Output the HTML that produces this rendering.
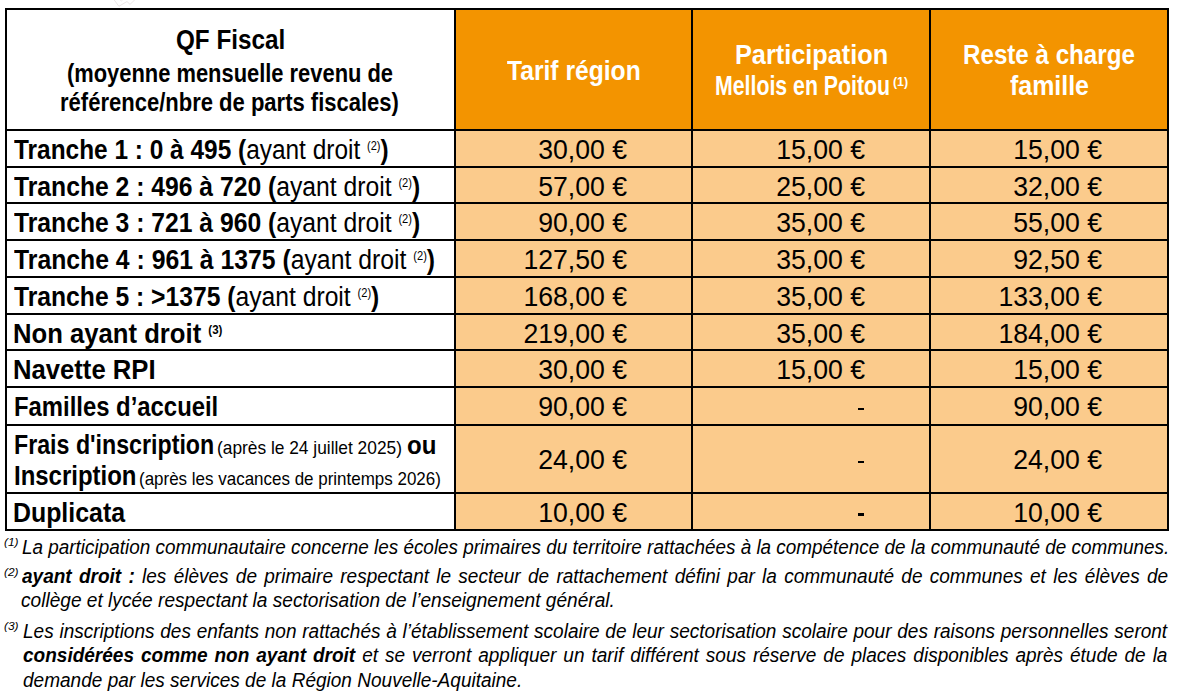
<!DOCTYPE html><html><head><meta charset="utf-8"><style>
*{margin:0;padding:0}
html,body{width:1185px;height:692px;overflow:hidden;background:#fff}
body{position:relative;font-family:"Liberation Sans",sans-serif;color:#000}
.g{position:absolute}
.t{position:absolute;white-space:nowrap;line-height:1;transform-origin:0 0}
.b{font-weight:bold}
.i{font-style:italic}
.sp{font-size:0.45em;vertical-align:0.72em}
.w{color:#fff}
</style></head><body>
<div class="g" style="left:454px;top:8px;width:713px;height:121px;background:#f39400"></div>
<div class="g" style="left:454px;top:129px;width:713px;height:400px;background:#fbcb8c"></div>
<div class="g" style="left:5px;top:8px;width:1164px;height:2px;background:#000"></div>
<div class="g" style="left:5px;top:129px;width:1164px;height:2px;background:#000"></div>
<div class="g" style="left:5px;top:166px;width:1164px;height:2px;background:#000"></div>
<div class="g" style="left:5px;top:202px;width:1164px;height:2px;background:#000"></div>
<div class="g" style="left:5px;top:239px;width:1164px;height:2px;background:#000"></div>
<div class="g" style="left:5px;top:276px;width:1164px;height:2px;background:#000"></div>
<div class="g" style="left:5px;top:313px;width:1164px;height:2px;background:#000"></div>
<div class="g" style="left:5px;top:349px;width:1164px;height:2px;background:#000"></div>
<div class="g" style="left:5px;top:386px;width:1164px;height:2px;background:#000"></div>
<div class="g" style="left:5px;top:424px;width:1164px;height:2px;background:#000"></div>
<div class="g" style="left:5px;top:492px;width:1164px;height:2px;background:#000"></div>
<div class="g" style="left:5px;top:529px;width:1164px;height:2px;background:#000"></div>
<div class="g" style="left:5px;top:8px;width:2px;height:523px;background:#000"></div>
<div class="g" style="left:454px;top:8px;width:2px;height:523px;background:#000"></div>
<div class="g" style="left:691px;top:8px;width:2px;height:523px;background:#000"></div>
<div class="g" style="left:929px;top:8px;width:2px;height:523px;background:#000"></div>
<div class="g" style="left:1167px;top:8px;width:2px;height:523px;background:#000"></div>
<svg class="g" style="left:0;top:0" width="200" height="10"><polyline points="113.9,-0.5 118.9,6.3 127,1.5 130,4.4 135.1,-0.5" fill="none" stroke="#ebe6e6" stroke-width="1"/><polyline points="119.6,-0.5 121.5,1.2 122.6,-0.5" fill="none" stroke="#f0ecec" stroke-width="1"/></svg>
<div class="g" style="left:857.8px;top:407.5px;width:6.3px;height:2.2px;background:#000"></div>
<div class="g" style="left:857.8px;top:460.7px;width:6.3px;height:2.2px;background:#000"></div>
<div class="g" style="left:857.8px;top:513px;width:6.3px;height:2.5px;background:#000"></div>
<div class="t b" style="left:175.70px;top:27px;font-size:27px;transform:scaleX(0.8983);">QF Fiscal</div>
<div class="t b" style="left:67.12px;top:61px;font-size:25px;transform:scaleX(0.8755);">(moyenne mensuelle revenu de</div>
<div class="t b" style="left:60.44px;top:90px;font-size:25px;transform:scaleX(0.8806);">référence/nbre de parts fiscales)</div>
<div class="t b w" style="left:506.90px;top:58px;font-size:27px;transform:scaleX(0.9124);">Tarif région</div>
<div class="t b w" style="left:734.83px;top:42px;font-size:27px;transform:scaleX(0.9369);">Participation</div>
<div class="t b w" style="left:714.92px;top:73px;font-size:27px;transform:scaleX(0.7885);">Mellois en Poitou</div>
<div class="t b w" style="left:892.75px;top:75px;font-size:13px;transform:scaleX(0.9500);">(1)</div>
<div class="t b w" style="left:963.11px;top:42px;font-size:27px;transform:scaleX(0.8947);">Reste à charge</div>
<div class="t b w" style="left:1009.90px;top:73px;font-size:27px;transform:scaleX(0.9235);">famille</div>
<div class="t b" style="left:14.20px;top:137px;font-size:27px;transform:scaleX(0.9046);">Tranche 1 : 0 à 495 (<span style="font-weight:normal">ayant droit <span class="sp">(2)</span></span>)</div>
<div class="t b" style="left:14.20px;top:174px;font-size:27px;transform:scaleX(0.9147);">Tranche 2 : 496 à 720 (<span style="font-weight:normal">ayant droit <span class="sp">(2)</span></span>)</div>
<div class="t b" style="left:14.20px;top:210px;font-size:27px;transform:scaleX(0.9147);">Tranche 3 : 721 à 960 (<span style="font-weight:normal">ayant droit <span class="sp">(2)</span></span>)</div>
<div class="t b" style="left:14.20px;top:247px;font-size:27px;transform:scaleX(0.9172);">Tranche 4 : 961 à 1375 (<span style="font-weight:normal">ayant droit <span class="sp">(2)</span></span>)</div>
<div class="t b" style="left:14.20px;top:284px;font-size:27px;transform:scaleX(0.9138);">Tranche 5 : >1375 (<span style="font-weight:normal">ayant droit <span class="sp">(2)</span></span>)</div>
<div class="t b" style="left:13.30px;top:321px;font-size:27px;transform:scaleX(0.9505);">Non ayant droit <span class="sp">(3)</span></div>
<div class="t b" style="left:13.30px;top:357px;font-size:27px;transform:scaleX(0.9500);">Navette RPI</div>
<div class="t b" style="left:13.63px;top:394px;font-size:27px;transform:scaleX(0.8837);">Familles d’accueil</div>
<div class="t b" style="left:13.68px;top:432px;font-size:27px;transform:scaleX(0.8594);">Frais d'inscription</div>
<div class="t " style="left:217.19px;top:438px;font-size:19px;transform:scaleX(0.9119);">(après le 24 juillet 2025)</div>
<div class="t b" style="left:406.54px;top:433px;font-size:25px;transform:scaleX(0.9607);">ou</div>
<div class="t b" style="left:13.63px;top:463px;font-size:27px;transform:scaleX(0.8873);">Inscription</div>
<div class="t " style="left:138.91px;top:469px;font-size:19px;transform:scaleX(0.8932);">(après les vacances de printemps 2026)</div>
<div class="t b" style="left:13.46px;top:500px;font-size:27px;transform:scaleX(0.9217);">Duplicata</div>
<div class="t i" style="left:21.85px;top:537px;font-size:20px;transform:scaleX(0.9451);">La participation communautaire concerne les écoles primaires du territoire rattachées à la compétence de la communauté de communes.</div>
<div class="t i" style="left:21.04px;top:590px;font-size:20px;transform:scaleX(0.9555);">collège et lycée respectant la sectorisation de l’enseignement général.</div>
<div class="t i" style="left:23.05px;top:670px;font-size:20px;transform:scaleX(0.9514);">demande par les services de la Région Nouvelle-Aquitaine.</div>
<div class="t i" style="left:3.92px;top:537px;font-size:11px;transform:scaleX(1.0833);">(1)</div>
<div class="t i" style="left:3.92px;top:567px;font-size:11px;transform:scaleX(1.0833);">(2)</div>
<div class="t i" style="left:3.92px;top:621px;font-size:11px;transform:scaleX(1.0833);">(3)</div>
<div class="t" style="right:558.10px;top:137px;font-size:27px;transform-origin:100% 0;transform:scaleX(0.9865)">30,00 €</div>
<div class="t" style="right:320.40px;top:137px;font-size:27px;transform-origin:100% 0;transform:scaleX(0.9865)">15,00 €</div>
<div class="t" style="right:82.60px;top:137px;font-size:27px;transform-origin:100% 0;transform:scaleX(0.9865)">15,00 €</div>
<div class="t" style="right:558.10px;top:174px;font-size:27px;transform-origin:100% 0;transform:scaleX(0.9865)">57,00 €</div>
<div class="t" style="right:320.40px;top:174px;font-size:27px;transform-origin:100% 0;transform:scaleX(0.9865)">25,00 €</div>
<div class="t" style="right:82.60px;top:174px;font-size:27px;transform-origin:100% 0;transform:scaleX(0.9865)">32,00 €</div>
<div class="t" style="right:558.10px;top:210px;font-size:27px;transform-origin:100% 0;transform:scaleX(0.9865)">90,00 €</div>
<div class="t" style="right:320.40px;top:210px;font-size:27px;transform-origin:100% 0;transform:scaleX(0.9865)">35,00 €</div>
<div class="t" style="right:82.60px;top:210px;font-size:27px;transform-origin:100% 0;transform:scaleX(0.9865)">55,00 €</div>
<div class="t" style="right:558.10px;top:247px;font-size:27px;transform-origin:100% 0;transform:scaleX(0.9865)">127,50 €</div>
<div class="t" style="right:320.40px;top:247px;font-size:27px;transform-origin:100% 0;transform:scaleX(0.9865)">35,00 €</div>
<div class="t" style="right:82.60px;top:247px;font-size:27px;transform-origin:100% 0;transform:scaleX(0.9865)">92,50 €</div>
<div class="t" style="right:558.10px;top:284px;font-size:27px;transform-origin:100% 0;transform:scaleX(0.9865)">168,00 €</div>
<div class="t" style="right:320.40px;top:284px;font-size:27px;transform-origin:100% 0;transform:scaleX(0.9865)">35,00 €</div>
<div class="t" style="right:82.60px;top:284px;font-size:27px;transform-origin:100% 0;transform:scaleX(0.9865)">133,00 €</div>
<div class="t" style="right:558.10px;top:321px;font-size:27px;transform-origin:100% 0;transform:scaleX(0.9865)">219,00 €</div>
<div class="t" style="right:320.40px;top:321px;font-size:27px;transform-origin:100% 0;transform:scaleX(0.9865)">35,00 €</div>
<div class="t" style="right:82.60px;top:321px;font-size:27px;transform-origin:100% 0;transform:scaleX(0.9865)">184,00 €</div>
<div class="t" style="right:558.10px;top:357px;font-size:27px;transform-origin:100% 0;transform:scaleX(0.9865)">30,00 €</div>
<div class="t" style="right:320.40px;top:357px;font-size:27px;transform-origin:100% 0;transform:scaleX(0.9865)">15,00 €</div>
<div class="t" style="right:82.60px;top:357px;font-size:27px;transform-origin:100% 0;transform:scaleX(0.9865)">15,00 €</div>
<div class="t" style="right:558.10px;top:394px;font-size:27px;transform-origin:100% 0;transform:scaleX(0.9865)">90,00 €</div>
<div class="t" style="right:82.60px;top:394px;font-size:27px;transform-origin:100% 0;transform:scaleX(0.9865)">90,00 €</div>
<div class="t" style="right:558.10px;top:447px;font-size:27px;transform-origin:100% 0;transform:scaleX(0.9865)">24,00 €</div>
<div class="t" style="right:82.60px;top:447px;font-size:27px;transform-origin:100% 0;transform:scaleX(0.9865)">24,00 €</div>
<div class="t" style="right:558.10px;top:500px;font-size:27px;transform-origin:100% 0;transform:scaleX(0.9865)">10,00 €</div>
<div class="t" style="right:82.60px;top:500px;font-size:27px;transform-origin:100% 0;transform:scaleX(0.9865)">10,00 €</div>
<div class="t i" style="left:22.00px;top:566px;font-size:20px;transform:scaleX(0.9507);width:1205.54px;text-align:justify;text-align-last:justify;"><b>ayant droit :</b> les élèves de primaire respectant le secteur de rattachement défini par la communauté de communes et les élèves de</div>
<div class="t i" style="left:23.05px;top:621px;font-size:20px;transform:scaleX(0.9507);width:1203.49px;text-align:justify;text-align-last:justify;">Les inscriptions des enfants non rattachés à l’établissement scolaire de leur sectorisation scolaire pour des raisons personnelles seront</div>
<div class="t i" style="left:23.05px;top:645px;font-size:20px;transform:scaleX(0.9507);width:1203.80px;text-align:justify;text-align-last:justify;"><b>considérées comme non ayant droit</b> et se verront appliquer un tarif différent sous réserve de places disponibles après étude de la</div>
</body></html>
